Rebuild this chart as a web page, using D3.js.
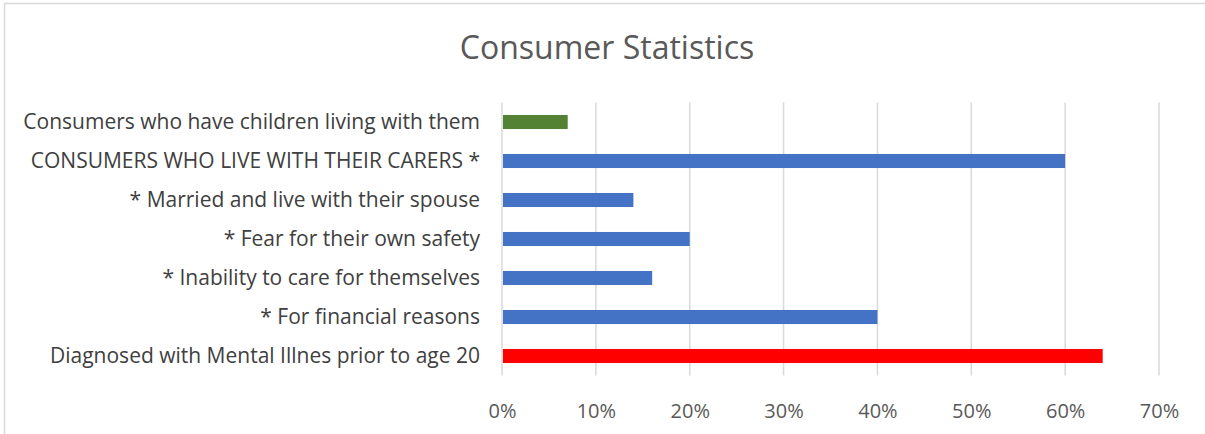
<!DOCTYPE html>
<html>
<head>
<meta charset="utf-8">
<script src="https://cdn.jsdelivr.net/npm/d3@7/dist/d3.min.js"></script>
<style>
  html, body { margin: 0; padding: 0; background: #fff; }
  svg { display: block; }
</style>
</head>
<body>
<svg id="chart" width="1205" height="434"></svg>
<script>
const categories = [
  "Consumers who have children living with them",
  "CONSUMERS WHO LIVE WITH THEIR CARERS *",
  "* Married and live with their spouse",
  "* Fear for their own safety",
  "* Inability to care for themselves",
  "* For financial reasons",
  "Diagnosed with Mental Illnes prior to age 20"
];
const values = [0.07, 0.60, 0.14, 0.20, 0.16, 0.40, 0.64];
const barColors = ["#548235", "#4472C4", "#4472C4", "#4472C4", "#4472C4", "#4472C4", "#FF0000"];
const tickValues = [0, 0.1, 0.2, 0.3, 0.4, 0.5, 0.6, 0.7];
const title = "Consumer Statistics";

const svg = d3.select("#chart");
const W = 1205, H = 434;
const plot = { left: 502, right: 1159, top: 102.5, bottom: 375.5 };
const font = "'Open Sans', 'Noto Sans', sans-serif";

// chart border
svg.append("rect")
  .attr("x", 4.5).attr("y", 3.5)
  .attr("width", W + 10).attr("height", H + 10)
  .attr("fill", "#fff").attr("stroke", "#d9d9d9").attr("stroke-width", 1.5);

const x = d3.scaleLinear().domain([0, 0.7]).range([plot.left, plot.right]);
const y = d3.scaleBand().domain(categories).range([plot.top, plot.bottom]).paddingInner(0.64).paddingOuter(0.32);

// gridlines
svg.append("g").selectAll("line").data(tickValues).join("line")
  .attr("x1", d => x(d)).attr("x2", d => x(d))
  .attr("y1", plot.top).attr("y2", plot.bottom)
  .attr("stroke", "#d9d9d9").attr("stroke-width", 1.5);

// bars
svg.append("g").selectAll("rect").data(categories).join("rect")
  .attr("x", x(0) + 1)
  .attr("y", d => y(d))
  .attr("width", (d, i) => x(values[i]) - x(0) - 1)
  .attr("height", y.bandwidth())
  .attr("fill", (d, i) => barColors[i]);

// x axis labels
const xAxis = d3.axisBottom(x).tickValues(tickValues).tickFormat(d3.format(".0%")).tickSize(0).tickPadding(0);
const gx = svg.append("g").attr("transform", `translate(0,${plot.bottom})`).call(xAxis);
gx.select(".domain").remove();
gx.selectAll("text")
  .attr("y", 42).attr("dy", null)
  .attr("font-family", font).attr("font-size", 20).attr("fill", "#595959");

// y axis labels
const yAxis = d3.axisLeft(y).tickSize(0).tickPadding(22);
const gy = svg.append("g").attr("transform", `translate(${plot.left},0)`).call(yAxis);
gy.select(".domain").remove();
gy.selectAll("text")
  .attr("font-family", font).attr("font-size", 21).attr("fill", "#404040")
  .attr("dy", "0.35em");

// title
svg.append("text")
  .attr("x", 607).attr("y", 59)
  .attr("text-anchor", "middle")
  .attr("font-family", font).attr("font-size", 32).attr("fill", "#595959")
  .text(title);
</script>
</body>
</html>
